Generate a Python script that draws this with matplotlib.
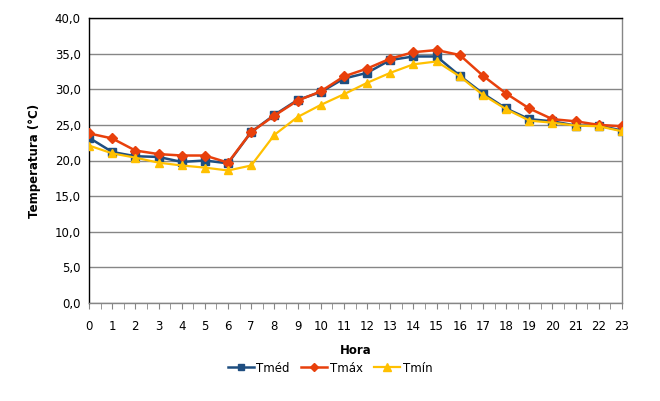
import matplotlib
matplotlib.use("Agg")
import matplotlib.pyplot as plt
from matplotlib.ticker import MultipleLocator, FuncFormatter

horas = list(range(24))
tmed = [23.2, 21.2, 20.6, 20.5, 19.8, 20.0, 19.6, 24.0, 26.4, 28.5, 29.6, 31.5,
        32.3, 34.1, 34.6, 34.6, 31.9, 29.4, 27.3, 25.8, 25.5, 24.9, 24.9, 24.2]
tmax = [23.8, 23.1, 21.4, 20.9, 20.7, 20.7, 19.7, 24.0, 26.3, 28.4, 29.7, 31.8,
        32.9, 34.3, 35.2, 35.5, 34.8, 31.9, 29.4, 27.3, 25.8, 25.5, 25.0, 24.8]
tmin = [22.1, 21.0, 20.4, 19.7, 19.3, 19.0, 18.6, 19.3, 23.6, 26.1, 27.8, 29.3,
        30.9, 32.3, 33.5, 33.9, 31.8, 29.2, 27.2, 25.6, 25.3, 24.9, 24.8, 24.1]

fig = plt.figure(figsize=(6.6, 4.01), dpi=100)
ax = fig.add_axes([89/660, 1-303/401, (622-89)/660, (303-18)/401])

fs = 8.5
ax.plot(horas, tmed, color="#1F4E80", marker="s", markersize=5.5, lw=1.8, label="Tméd", zorder=3)
ax.plot(horas, tmax, color="#E8400C", marker="D", markersize=5, lw=1.8, label="Tmáx", zorder=4)
ax.plot(horas, tmin, color="#FFC000", marker="^", markersize=6, lw=1.6, label="Tmín", zorder=5)

ax.set_xlim(0, 23)
ax.set_ylim(0, 40)
ax.yaxis.set_major_locator(MultipleLocator(5))
ax.yaxis.set_major_formatter(FuncFormatter(lambda v, p: f"{v:.1f}".replace(".", ",")))
ax.set_xticks(horas)
ax.set_xticks([h + 0.5 for h in horas[:-1]], minor=True)
ax.grid(axis="y", color="#868686", lw=1)
ax.set_axisbelow(True)

ax.tick_params(axis="y", length=0, labelsize=fs, pad=6)
ax.tick_params(axis="x", which="both", length=4, color="#868686", labelsize=fs, pad=8)
ax.tick_params(axis="x", which="minor", length=4)

for s in ["left", "top"]:
    ax.spines[s].set_color("black")
for s in ["right", "bottom"]:
    ax.spines[s].set_color("#868686")
for s in ax.spines.values():
    s.set_linewidth(1)

ax.set_xlabel("Hora", fontsize=fs, fontweight="bold", labelpad=8)
ax.set_ylabel("Temperatura (°C)", fontsize=fs, fontweight="bold", labelpad=10)

fig.legend(loc="center", bbox_to_anchor=(0.5, 1-368/401), ncol=3, frameon=False,
           fontsize=fs, handlelength=2.2, columnspacing=1.0, handletextpad=0.2,
           markerscale=0.9)

fig.savefig("out.png", dpi=100)
